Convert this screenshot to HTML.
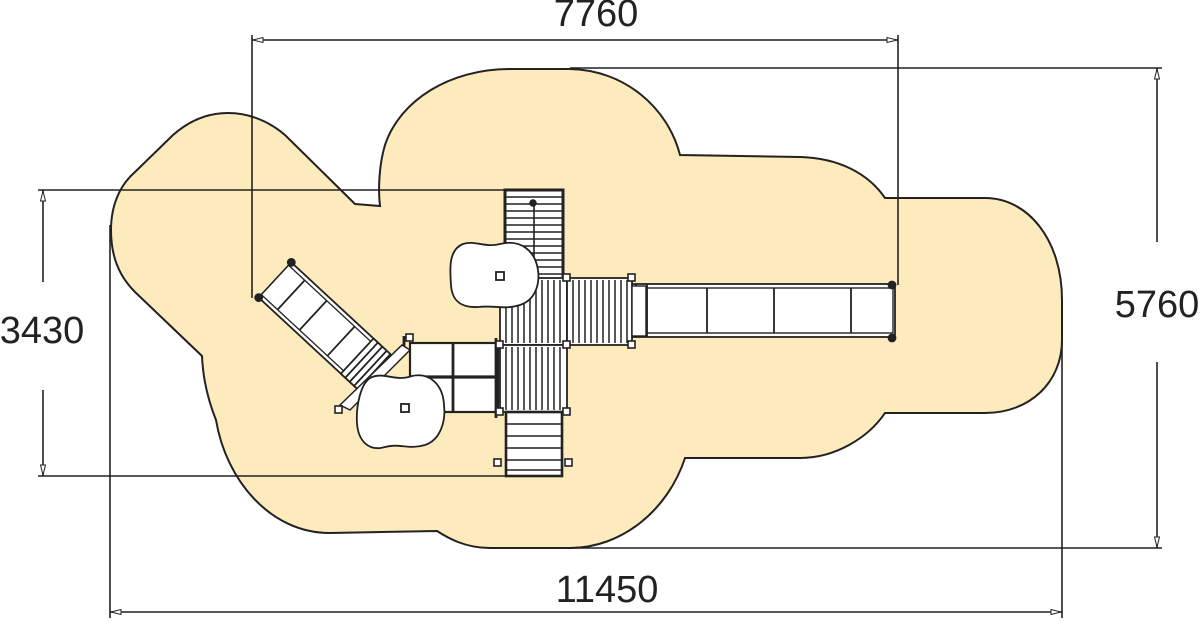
<!DOCTYPE html>
<html><head><meta charset="utf-8"><style>
html,body{margin:0;padding:0;background:#fff;width:1200px;height:622px;overflow:hidden}
svg{display:block}
text{font-family:"Liberation Sans",sans-serif;font-size:38px;fill:#222}
</style></head><body>
<svg width="1200" height="622" viewBox="0 0 1200 622" xmlns="http://www.w3.org/2000/svg">
<path d="M355 204 L380 206 C378 190 379 165 385 145 C400 100 450 69 510 69 L570 69 C625 70 668 108 680 155 L800 157 C838 158 868 173 885 198 L985 198 C1028 198 1062 240 1062 300 L1062 340 C1062 382 1030 413 985 413 L885 413 C868 438 835 458 800 458 L685 458 C668 510 622 548 570 548 L490 548 C465 548 448 538 437 531 L330 533 C270 533 226 480 216 420 C208 400 203 380 202 356 L135 292 C118 275 111 255 111 230 C111 205 120 185 135 172 L173 135 C190 120 208 113 228 113 C250 113 270 122 285 135 Z" fill="#fdeabd" stroke="#222" stroke-width="2"/>

<g stroke="#222" stroke-width="1.6" fill="none">
<line x1="252" y1="35" x2="252" y2="298"/>
<line x1="898" y1="35" x2="898" y2="285"/>
<line x1="252" y1="40" x2="898" y2="40"/>
<line x1="570" y1="68" x2="1162" y2="68"/>
<line x1="570" y1="548" x2="1162" y2="548"/>
<line x1="1157" y1="68" x2="1157" y2="242"/>
<line x1="1157" y1="362" x2="1157" y2="548"/>
<line x1="38" y1="190" x2="505" y2="190"/>
<line x1="38" y1="476" x2="505" y2="476"/>
<line x1="43" y1="190" x2="43" y2="282"/>
<line x1="43" y1="390" x2="43" y2="476"/>
<line x1="110" y1="225" x2="110" y2="618"/>
<line x1="1062" y1="300" x2="1062" y2="618"/>
<line x1="110" y1="612" x2="1062" y2="612"/>
</g>
<g fill="#fff" stroke="#222" stroke-width="1">
<path d="M253 40 l10 -2.5 v5 z"/><path d="M897 40 l-10 -2.5 v5 z"/>
<path d="M1157 69 l-2.5 10 h5 z"/><path d="M1157 547 l-2.5 -10 h5 z"/>
<path d="M43 191 l-2.5 10 h5 z"/><path d="M43 475 l-2.5 -10 h5 z"/>
<path d="M111 612 l10 -2.5 v5 z"/><path d="M1061 612 l-10 -2.5 v5 z"/>
</g>
<text x="596" y="26" text-anchor="middle">7760</text>
<text x="1157" y="317" text-anchor="middle">5760</text>
<text x="42" y="343" text-anchor="middle">3430</text>
<text x="607" y="602" text-anchor="middle">11450</text>

<g stroke="#222" stroke-width="1.8">
<rect x="632" y="284" width="263" height="53" fill="#fff"/>
<rect x="647" y="288" width="246" height="45" fill="#fff" stroke-width="1.4"/>
<line x1="636" y1="284" x2="636" y2="337"/><line x1="647" y1="284" x2="647" y2="337"/>
<line x1="707" y1="288" x2="707" y2="333"/><line x1="774" y1="288" x2="774" y2="333"/><line x1="851" y1="288" x2="851" y2="333"/>
<circle cx="892" cy="285" r="3.5" fill="#222"/><circle cx="892" cy="338" r="3.5" fill="#222"/>
</g>

<g stroke="#222" stroke-width="1.5">
<rect x="505" y="190" width="58" height="90" fill="#fff" stroke-width="3"/>
<g stroke-width="1.6">
<path d="M505 197h58M505 204h58M505 211h58M505 218h58M505 225h58M505 232h58M505 239h58M505 246h58M505 253h58M505 260h58M505 267h58M505 274h58"/>
<line x1="534" y1="200" x2="534" y2="278"/>
</g>
<circle cx="533" cy="203" r="3" fill="#222"/>
</g>

<g stroke="#222" stroke-width="1.8" fill="#fff">
<rect x="500" y="278" width="67" height="67"/>
<rect x="567" y="278" width="65" height="67"/>
<rect x="500" y="345" width="67" height="67"/>
<rect x="632" y="286" width="14" height="50" stroke-width="1.4"/>
</g>
<g stroke="#222" stroke-width="1.5">
<path d="M506 280v63M512 280v63M518 280v63M524 280v63M530 280v63M536 280v63M542 280v63M548 280v63M554 280v63M560 280v63"/>
<path d="M573 280v63M579 280v63M585 280v63M591 280v63M597 280v63M603 280v63M609 280v63M615 280v63M621 280v63M627 280v63"/>
<path d="M506 347v63M512 347v63M518 347v63M524 347v63M530 347v63M536 347v63M542 347v63M548 347v63M554 347v63M560 347v63"/>
</g>

<g stroke="#222" stroke-width="1.6">
<rect x="506" y="412" width="56" height="64" fill="#fff" stroke-width="2.6"/>
<path d="M506 424h56M506 436h56M506 448h56M506 460h56M506 470h56"/>
</g>

<g stroke="#222" stroke-width="1.8" fill="#fff">
<rect x="410" y="343" width="88" height="69" stroke-width="2.2"/>
<line x1="453" y1="343" x2="453" y2="412" stroke-width="2.8"/>
<line x1="410" y1="377" x2="498" y2="377" stroke-width="3.2"/>
<line x1="496" y1="338" x2="496" y2="418" stroke-width="2.8"/>
<line x1="404" y1="336" x2="404" y2="352" stroke-width="2.8"/>
</g>

<g transform="translate(275,280) rotate(42.8)" stroke="#222" stroke-width="1.8">
<rect x="0" y="-24" width="135" height="48" fill="#fff"/>
<rect x="0" y="-20" width="135" height="40" fill="#fff" stroke-width="1.3"/>
<line x1="22" y1="-20" x2="22" y2="20"/><line x1="52" y1="-20" x2="52" y2="20"/><line x1="90" y1="-20" x2="90" y2="20"/>
<rect x="112" y="-24" width="23" height="48" fill="#fff"/>
<line x1="118" y1="-24" x2="118" y2="24"/><line x1="124" y1="-24" x2="124" y2="24"/><line x1="130" y1="-24" x2="130" y2="24"/>
<circle cx="0" cy="-24" r="3.5" fill="#222"/><circle cx="0" cy="24" r="3.5" fill="#222"/>
</g>
<path d="M340 405 L402 345 L410 350 L350 410 Z" fill="#fff" stroke="#222" stroke-width="1.5"/>

<g fill="#fff" stroke="#222" stroke-width="1.6">
<rect x="563" y="274" width="7" height="7"/><rect x="628" y="274" width="7" height="7"/>
<rect x="628" y="341" width="7" height="7"/><rect x="563" y="341" width="7" height="7"/>
<rect x="496" y="341" width="7" height="7"/><rect x="563" y="408" width="7" height="7"/>
<rect x="496" y="408" width="7" height="7"/><rect x="494" y="459" width="7" height="7"/>
<rect x="565" y="459" width="7" height="7"/><rect x="406" y="334" width="7" height="7"/>
<rect x="335" y="406" width="7" height="7"/>
</g>

<g fill="#fff" stroke="#222" stroke-width="1.8">
<path d="M463 244 C475 240 485 248 500 244 C520 239 535 250 538 270 C540 285 535 300 520 305 C505 310 495 305 478 307 C460 308 452 300 451 285 C450 270 448 250 463 244 Z"/>
<path d="M372 377 C385 372 395 382 412 376 C430 372 443 385 444 405 C446 422 440 440 425 445 C408 450 400 443 385 447 C368 452 358 440 357 423 C356 408 360 382 372 377 Z"/>
<rect x="496" y="272" width="8" height="8"/>
<rect x="401" y="404" width="8" height="8"/>
</g>
</svg>
</body></html>
